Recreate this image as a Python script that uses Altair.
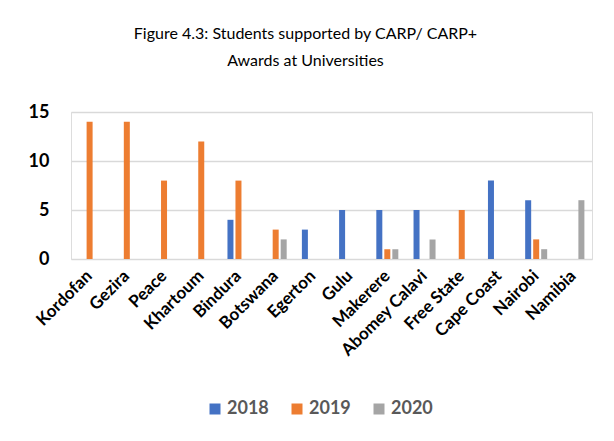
import altair as alt
import pandas as pd

universities = ["Kordofan", "Gezira", "Peace", "Khartoum", "Bindura", "Botswana", "Egerton",
                "Gulu", "Makerere", "Abomey Calavi", "Free State", "Cape Coast", "Nairobi", "Namibia"]
years = ["2018", "2019", "2020"]
v2018 = [0, 0, 0, 0, 4, 0, 3, 5, 5, 5, 0, 8, 6, 0]
v2019 = [14, 14, 8, 12, 8, 3, 0, 0, 1, 0, 5, 0, 2, 0]
v2020 = [0, 0, 0, 0, 0, 2, 0, 0, 1, 2, 0, 0, 1, 6]
colors = ["#4472C4", "#ED7D31", "#A5A5A5"]

rows = []
for i, u in enumerate(universities):
    for y, vals in zip(years, [v2018, v2019, v2020]):
        if vals[i] > 0:
            rows.append({"University": u, "Year": y, "Students": vals[i]})
df = pd.DataFrame(rows)

FONT = "Lato"

chart = alt.Chart(df).mark_bar().encode(
    x=alt.X("University:N", sort=universities, title=None,
            scale=alt.Scale(paddingInner=0, paddingOuter=0),
            axis=alt.Axis(labelAngle=-45, labelAlign="right", labelBaseline="middle",
                          labelFont=FONT, labelFontSize=17, labelFontWeight="bold",
                          labelColor="#000000", labelPadding=14, ticks=False,
                          domain=False, grid=False)),
    xOffset=alt.XOffset("Year:N", sort=years,
                        scale=alt.Scale(domain=years, paddingInner=0.25, paddingOuter=0.95)),
    y=alt.Y("Students:Q", title=None,
            scale=alt.Scale(domain=[0, 15], nice=False),
            axis=alt.Axis(values=[0, 5, 10, 15], labelFont=FONT, labelFontSize=18,
                          labelFontWeight="bold", labelColor="#000000", labelPadding=22,
                          ticks=False, domain=False, gridColor="#D9D9D9", gridWidth=1.5)),
    color=alt.Color("Year:N", sort=years,
                    scale=alt.Scale(domain=years, range=colors),
                    legend=alt.Legend(title=None, orient="none", direction="horizontal",
                                      legendX=135, legendY=288, symbolType="square",
                                      symbolSize=121, symbolStrokeWidth=0,
                                      labelFont=FONT, labelFontSize=18, labelFontWeight="bold",
                                      labelColor="#595959", labelOffset=3, columnPadding=19,
                                      padding=0)),
).properties(
    width=521,
    height=147,
    title=alt.TitleParams(
        ["Figure 4.3: Students supported by CARP/ CARP+", "Awards at Universities"],
        font=FONT, fontSize=16, fontWeight="normal", color="#000000",
        anchor="middle", dx=-26, offset=34, lineHeight=27),
    autosize=alt.AutoSizeParams(type="none"),
    padding={"left": 63, "top": 104, "right": 14, "bottom": 170},
).configure_view(stroke=None).configure(background="#FFFFFF")

chart.save("out.html", embed_options={"renderer": "svg", "actions": False})
